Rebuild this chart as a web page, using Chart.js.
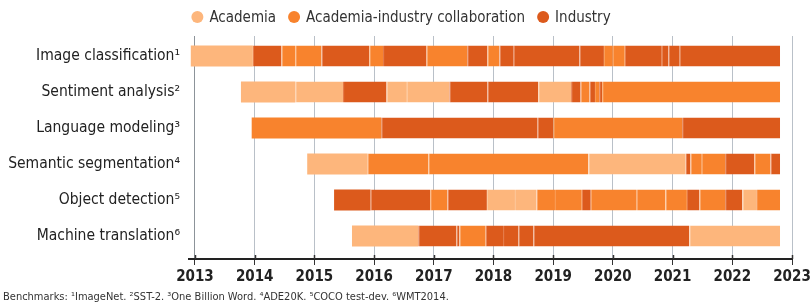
<!DOCTYPE html>
<html><head><meta charset="utf-8">
<script src="https://cdn.jsdelivr.net/npm/chart.js@4.4.0/dist/chart.umd.min.js"></script>
<style>html,body{margin:0;padding:0;background:#fff;} #wrap{width:812px;height:304px;position:relative;}</style>
</head><body><div id="wrap"><canvas id="c" width="812" height="304"></canvas></div>
<script>
const categories = ['Image classification¹', 'Sentiment analysis²', 'Language modeling³', 'Semantic segmentation⁴', 'Object detection⁵', 'Machine translation⁶'];
const seriesNames = ['Academia', 'Academia-industry collaboration', 'Industry'];
const seriesKeys = ['A', 'C', 'I'];
const yearTicks = [2013, 2014, 2015, 2016, 2017, 2018, 2019, 2020, 2021, 2022, 2023];
const footnote = 'Benchmarks: ¹ImageNet. ²SST-2. ³One Billion Word. ⁴ADE20K. ⁵COCO test-dev. ⁶WMT2014.';

// Year at which each state-of-the-art record begins/ends, and sector of each record (A/C/I)
const imageClassBreaks = [2012.93, 2013.97, 2014.45, 2014.68, 2015.12, 2015.92, 2016.15, 2016.88, 2017.56, 2017.90, 2018.10, 2018.34, 2019.44, 2019.85, 2020.00, 2020.20, 2020.82, 2020.93, 2021.12, 2022.80];
const imageClassTypes  = ['A','I','C','C','I','C','I','C','I','C','I','I','I','C','C','I','I','I','I'];
const sentimentBreaks = [2013.77, 2014.68, 2015.48, 2016.21, 2016.55, 2017.26, 2017.90, 2018.75, 2019.30, 2019.46, 2019.61, 2019.70, 2019.77, 2019.82, 2022.80];
const sentimentTypes  = ['A','A','I','A','A','I','I','A','I','C','I','C','I','C'];
const languageBreaks = [2013.95, 2016.12, 2018.74, 2019.00, 2021.16, 2022.80];
const languageTypes  = ['C','I','I','C','I'];
const segmentationBreaks = [2014.88, 2015.89, 2016.91, 2019.59, 2021.22, 2021.30, 2021.49, 2021.88, 2022.37, 2022.64, 2022.80];
const segmentationTypes  = ['A','C','C','A','I','C','C','I','C','I'];
const detectionBreaks = [2015.33, 2015.94, 2016.94, 2017.23, 2017.89, 2018.36, 2018.72, 2019.03, 2019.48, 2019.63, 2020.40, 2020.88, 2021.24, 2021.45, 2021.88, 2022.17, 2022.40, 2022.80];
const detectionTypes  = ['I','I','C','I','A','A','C','C','I','C','C','C','I','C','I','A','C'];
const translationBreaks = [2015.63, 2016.74, 2017.38, 2017.43, 2017.87, 2018.16, 2018.42, 2018.67, 2021.28, 2022.80];
const translationTypes  = ['A','I','I','C','I','I','I','I','A'];

const rowBreaks = [imageClassBreaks, sentimentBreaks, languageBreaks, segmentationBreaks, detectionBreaks, translationBreaks];
const rowTypes = [imageClassTypes, sentimentTypes, languageTypes, segmentationTypes, detectionTypes, translationTypes];

const fill = {A: '#fdb67c', C: '#f8832d', I: '#dc5a1c'};
const edge = {A: '#fdc596', C: '#fa9a52', I: '#e4723c'};
const FONT = '"Liberation Sans Narrow","DejaVu Sans Condensed","Arial Narrow",sans-serif';

const datasets = rowBreaks.map((br, i) => ({
  label: categories[i],
  data: rowTypes[i].map((t, j) => ({x: [br[j], br[j + 1]], y: i})),
  backgroundColor: rowTypes[i].map(t => fill[t]),
  borderColor: rowTypes[i].map(t => edge[t]),
  borderWidth: rowTypes[i].map((t, j) => j === 0 ? 0 : {left: 1, right: 0, top: 0, bottom: 0}),
  borderSkipped: false,
  grouped: false,
  maxBarThickness: 21
}));

const legendPlugin = {
  id: 'topLegend',
  afterDraw(chart) {
    const c = chart.ctx;
    c.save();
    c.font = '15px ' + FONT;
    c.textBaseline = 'middle';
    const ws = seriesNames.map(n => c.measureText(n).width);
    const total = ws.reduce((s, w) => s + 12 + 6 + w, 0) + 12 * (ws.length - 1);
    let x = 401 - total / 2;
    const y = 17;
    seriesNames.forEach((n, i) => {
      c.fillStyle = fill[seriesKeys[i]];
      c.beginPath(); c.arc(x + 6, y, 6, 0, Math.PI * 2); c.fill();
      c.fillStyle = '#333';
      c.fillText(n, x + 18, y + 1);
      x += 18 + ws[i] + 12;
    });
    // footnote
    c.font = '11px ' + FONT;
    c.fillStyle = '#333';
    c.fillText(footnote, 3, 297);
    // tick marks crossing the axis
    const xs = chart.scales.x, b = chart.chartArea.bottom;
    c.strokeStyle = '#333'; c.lineWidth = 1.5;
    yearTicks.forEach(v => {
      const px = Math.round(xs.getPixelForValue(v)) + 0.5;
      c.beginPath(); c.moveTo(px, b - 4); c.lineTo(px, b); c.stroke();
    });
    c.restore();
  }
};

new Chart(document.getElementById('c'), {
  type: 'bar',
  data: {datasets},
  plugins: [legendPlugin],
  options: {
    indexAxis: 'y',
    responsive: false,
    animation: false,
    layout: {padding: {top: 36, right: 20, left: 0, bottom: 0}},
    plugins: {legend: {display: false}, tooltip: {enabled: false}},
    scales: {
      x: {
        type: 'linear', bounds: 'data', min: 2012.9, max: 2023, position: 'bottom',
        afterBuildTicks: s => { s.ticks = yearTicks.map(v => ({value: v})); },
        ticks: {callback: v => String(v), font: {family: FONT, size: 15, weight: 'bold'}, color: '#222', padding: 3, maxRotation: 0, autoSkip: false},
        grid: {color: ctx => (ctx.tick && ctx.tick.value === 2013) ? '#8c9399' : '#b9c0c8', lineWidth: 1, drawTicks: true, tickLength: 6, tickColor: '#333'},
        border: {display: true, color: '#222', width: 2},
        afterFit: s => { s.height = 45; s.paddingLeft = 0; s.paddingRight = 0; }
      },
      y: {
        type: 'linear', bounds: 'data', offset: false, reverse: true, min: -0.556, max: 5.639,
        afterBuildTicks: s => { s.ticks = categories.map((c, i) => ({value: i})); },
        ticks: {callback: v => categories[v], font: {family: FONT, size: 15.5}, color: '#222', padding: 1, autoSkip: false},
        grid: {display: false},
        border: {display: false},
        afterFit: s => { s.width = 189; s.paddingTop = 0; s.paddingBottom = 0; }
      }
    }
  }
});
</script></body></html>
